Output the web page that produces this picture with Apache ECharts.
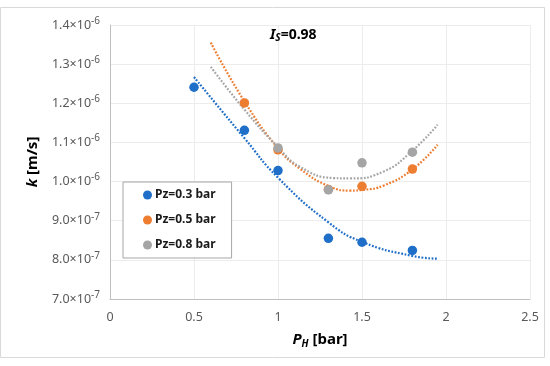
<!DOCTYPE html>
<html>
<head>
<meta charset="utf-8">
<script src="https://cdn.jsdelivr.net/npm/echarts@6/dist/echarts.min.js"></script>
<style>html,body{margin:0;padding:0;background:#fff}#c{width:550px;height:366px}</style>
</head>
<body>
<div id="c"></div>
<script>
// Measured points: x = P_H [bar], y = k [m/s]
const seriesNames = ['Pz=0.3 bar', 'Pz=0.5 bar', 'Pz=0.8 bar'];
const colors = ['#1F6FC8', '#ED7D31', '#A5A5A5'];
const pz03 = [[0.5, 1.241e-6], [0.8, 1.131e-6], [1.0, 1.028e-6], [1.3, 0.855e-6], [1.5, 0.845e-6], [1.8, 0.824e-6]];
const pz05 = [[0.8, 1.201e-6], [1.0, 1.081e-6], [1.3, 0.980e-6], [1.5, 0.988e-6], [1.8, 1.032e-6]];
const pz08 = [[1.0, 1.086e-6], [1.3, 0.979e-6], [1.5, 1.048e-6], [1.8, 1.075e-6]];
// Dotted trend curves
const trend03 = [[0.5, 1.267e-6], [0.8, 1.111e-6], [1.0, 1.010e-6], [1.3, 0.896e-6], [1.5, 0.846e-6], [1.8, 0.810e-6], [1.95, 0.803e-6]];
const trend05 = [[0.6, 1.355e-6], [0.8, 1.205e-6], [1.0, 1.085e-6], [1.13, 1.033e-6], [1.31, 0.987e-6], [1.43, 0.977e-6], [1.51, 0.979e-6], [1.63, 0.990e-6], [1.8, 1.031e-6], [1.95, 1.094e-6]];
const trend08 = [[0.6, 1.293e-6], [0.8, 1.184e-6], [1.0, 1.088e-6], [1.13, 1.038e-6], [1.33, 1.009e-6], [1.43, 1.008e-6], [1.63, 1.026e-6], [1.8, 1.079e-6], [1.95, 1.145e-6]];
const xTicks = [0, 0.5, 1, 1.5, 2, 2.5];
const yMin = 7e-7, yMax = 1.4e-6, yStep = 1e-7;

const FONT = 'Noto Sans';
const chart = echarts.init(document.getElementById('c'), null, {renderer: 'canvas'});

function yLabel(v) {
  const parts = v.toExponential(1).split('e');
  return '{m|' + parts[0] + '×10}{s|' + parts[1].replace('+', '') + '}';
}

const trendStyle = (c) => ({color: c, width: 2.2, type: [1.8, 1.6]});

chart.setOption({
  animation: false,
  textStyle: {fontFamily: FONT},
  grid: {left: 110, right: 20, top: 25, bottom: 67, containLabel: false},
  xAxis: {
    type: 'value', min: 0, max: 2.5, interval: 0.5,
    axisLine: {show: true, lineStyle: {color: '#bfbfbf', width: 1}},
    axisTick: {show: false},
    splitLine: {show: true, lineStyle: {color: '#ececec', width: 1}},
    axisLabel: {color: '#595959', fontSize: 12.5, fontFamily: FONT, margin: 12,
      formatter: (v) => String(v)},
    name: '{i|P}{sub|H}{b| [bar]}',
    nameLocation: 'middle', nameGap: 32,
    nameTextStyle: {
      rich: {
        i: {fontSize: 15, fontWeight: 'bold', fontStyle: 'italic', color: '#000', fontFamily: FONT},
        sub: {fontSize: 10, fontWeight: 'bold', fontStyle: 'italic', color: '#000', fontFamily: FONT, padding: [8, 0, 0, 0]},
        b: {fontSize: 15, fontWeight: 'bold', color: '#000', fontFamily: FONT}
      }
    }
  },
  yAxis: {
    type: 'value', min: yMin, max: yMax, interval: yStep,
    axisLine: {show: true, lineStyle: {color: '#bfbfbf', width: 1}},
    axisTick: {show: false},
    splitLine: {show: true, lineStyle: {color: '#ececec', width: 1}},
    axisLabel: {
      margin: 10, formatter: yLabel,
      rich: {
        m: {fontSize: 12.5, color: '#595959', fontFamily: FONT},
        s: {fontSize: 10, color: '#595959', fontFamily: FONT, padding: [0, 0, 8, 0]}
      }
    },
    name: '{i|k}{b| [m/s]}',
    nameLocation: 'middle', nameGap: 70, nameRotate: 90,
    nameTextStyle: {
      rich: {
        i: {fontSize: 15, fontWeight: 'bold', fontStyle: 'italic', color: '#000', fontFamily: FONT},
        b: {fontSize: 15, fontWeight: 'bold', color: '#000', fontFamily: FONT}
      }
    }
  },
  legend: {
    data: seriesNames.map((n) => ({name: n, icon: 'circle'})),
    orient: 'vertical', left: 123, top: 182,
    itemWidth: 9, itemHeight: 9, itemGap: 13,
    padding: [7, 16, 7, 20],
    backgroundColor: '#fff', borderColor: '#a6a6a6', borderWidth: 1,
    textStyle: {fontSize: 12, fontWeight: 'bold', color: '#1a1a1a', fontFamily: FONT, padding: [0, 0, 0, -2]}
  },
  graphic: [
    {type: 'rect', silent: true, z: -10, shape: {x: 0.5, y: 7.5, width: 544, height: 350},
      style: {fill: 'none', stroke: '#d9d9d9', lineWidth: 1}},
    {type: 'text', left: 270, top: 28, z: 100,
      style: {
        text: '{i|I}{sub|S}{t|=0.98}',
        rich: {
          i: {fontSize: 14, fontWeight: 'bold', fontStyle: 'italic', fill: '#000', fontFamily: FONT},
          sub: {fontSize: 10, fontWeight: 'bold', fontStyle: 'italic', fill: '#000', fontFamily: FONT, padding: [7, 0, 0, 0]},
          t: {fontSize: 14, fontWeight: 'bold', fill: '#000', fontFamily: FONT}
        }
      }
    }
  ],
  series: [
    {name: 'trend03', type: 'line', data: trend03, smooth: true, showSymbol: false, symbol: 'none', lineStyle: trendStyle(colors[0]), z: 1, silent: true},
    {name: 'trend05', type: 'line', data: trend05, smooth: true, showSymbol: false, symbol: 'none', lineStyle: trendStyle(colors[1]), z: 1, silent: true},
    {name: 'trend08', type: 'line', data: trend08, smooth: true, showSymbol: false, symbol: 'none', lineStyle: trendStyle(colors[2]), z: 1, silent: true},
    {name: seriesNames[0], type: 'scatter', data: pz03, symbolSize: 9.5, itemStyle: {color: colors[0], opacity: 1}, z: 3},
    {name: seriesNames[1], type: 'scatter', data: pz05, symbolSize: 9.5, itemStyle: {color: colors[1], opacity: 1}, z: 3},
    {name: seriesNames[2], type: 'scatter', data: pz08, symbolSize: 9.5, itemStyle: {color: colors[2], opacity: 1}, z: 3}
  ]
});
</script>
</body>
</html>
